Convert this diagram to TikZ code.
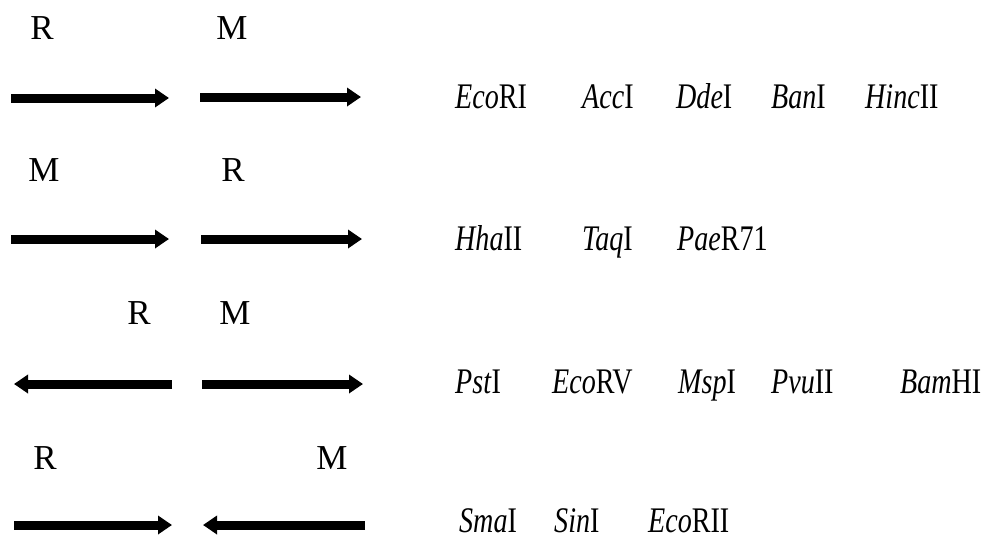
\documentclass[tikz,border=0pt]{standalone}
\usepackage{fontspec}
\setmainfont{Liberation Serif}
\newfontfamily\enzfont[FakeStretch=0.78]{Liberation Serif}
\usetikzlibrary{arrows.meta}
\begin{document}
\begin{tikzpicture}[x=1pt,y=-1pt,
  dna/.style={line width=9pt, -{Triangle[length=14pt,width=18pt]}},
  lab/.style={font=\fontsize{35}{38}\selectfont, inner sep=0pt, anchor=center},
  enz/.style={font=\enzfont\fontsize{36}{38}\selectfont, anchor=base west, inner sep=0pt}]
\useasboundingbox (0,0) rectangle (981,538);
\fill[white] (0,0) rectangle (981,538);

% row 1
\node[lab] (r1R) at (42,28) {R};
\node[lab] (r1M) at (232,28) {M};
\coordinate (a1s) at (11,98);  \coordinate (a1e) at (169,98);
\coordinate (b1s) at (200,97); \coordinate (b1e) at (361,97);
\draw[dna] (a1s) -- (a1e);
\draw[dna] (b1s) -- (b1e);
\node[enz] (e11) at (455,108) {\textit{Eco}RI};
\node[enz] (e12) at (582,108) {\textit{Acc}I};
\node[enz] (e13) at (676,108) {\textit{Dde}I};
\node[enz] (e14) at (771,108) {\textit{Ban}I};
\node[enz] (e15) at (865,108) {\textit{Hinc}II};

% row 2
\node[lab] (r2M) at (44,170) {M};
\node[lab] (r2R) at (233,170) {R};
\coordinate (a2s) at (11,239);  \coordinate (a2e) at (169,239);
\coordinate (b2s) at (201,239); \coordinate (b2e) at (362,239);
\draw[dna] (a2s) -- (a2e);
\draw[dna] (b2s) -- (b2e);
\node[enz] (e21) at (455,250) {\textit{Hha}II};
\node[enz] (e22) at (582,250) {\textit{Taq}I};
\node[enz] (e23) at (677,250) {\textit{Pae}R71};

% row 3
\node[lab] (r3R) at (139,313) {R};
\node[lab] (r3M) at (235,313) {M};
\coordinate (a3s) at (172,384); \coordinate (a3e) at (14,384);
\coordinate (b3s) at (202,384); \coordinate (b3e) at (363,384);
\draw[dna] (a3s) -- (a3e);
\draw[dna] (b3s) -- (b3e);
\node[enz] (e31) at (455,393) {\textit{Pst}I};
\node[enz] (e32) at (552,393) {\textit{Eco}RV};
\node[enz] (e33) at (678,393) {\textit{Msp}I};
\node[enz] (e34) at (771,393) {\textit{Pvu}II};
\node[enz] (e35) at (900,393) {\textit{Bam}HI};

% row 4
\node[lab] (r4R) at (45,458) {R};
\node[lab] (r4M) at (332,458) {M};
\coordinate (a4s) at (14,525);  \coordinate (a4e) at (172,525);
\coordinate (b4s) at (365,525); \coordinate (b4e) at (203,525);
\draw[dna] (a4s) -- (a4e);
\draw[dna] (b4s) -- (b4e);
\node[enz] (e41) at (459,532) {\textit{Sma}I};
\node[enz] (e42) at (554,532) {\textit{Sin}I};
\node[enz] (e43) at (648,532) {\textit{Eco}RII};
\end{tikzpicture}
\end{document}
